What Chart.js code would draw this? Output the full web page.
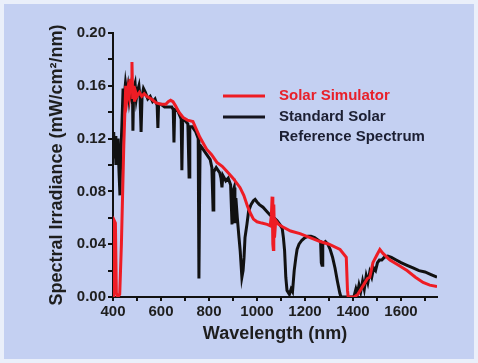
<!DOCTYPE html>
<html lang="en">
<head>
    <meta charset="UTF-8">
    <title>Solar Simulator vs Standard Solar Spectrum</title>
    <script src="https://cdn.jsdelivr.net/npm/chart.js"></script>
    <style>
        html, body { margin: 0; padding: 0; background: #eaeffa; }
        #chart { display: block; }
    </style>
</head>
<body>
    <canvas id="chart" width="478" height="363"></canvas>

    <script>
        // Standard solar reference spectrum (black)
        const refWavelength = [
            400, 403, 406, 409, 412, 415, 418, 421, 425, 429, 432, 437, 442, 447, 452, 457, 462, 467, 472, 477,
            481, 483, 486, 492, 497, 502, 508, 513, 517, 521, 527, 535, 545, 555, 565, 575, 584, 587, 590, 600,
            615, 630, 645, 651, 654, 657, 670, 684, 687, 690, 700, 712, 717, 720, 730, 745, 755, 758, 761, 763,
            775, 790, 805, 812, 817, 820, 830, 845, 850, 854, 858, 870, 880, 890, 896, 900, 905, 908, 912, 918,
            925, 930, 937, 942, 946, 950, 958, 965, 975, 985, 992, 1000, 1010, 1025, 1040, 1055, 1070, 1083, 1095, 1105,
            1110, 1115, 1120, 1125, 1135, 1142, 1148, 1155, 1162, 1167, 1175, 1187, 1200, 1212, 1225, 1240, 1255, 1265, 1268, 1271,
            1274, 1285, 1295, 1305, 1315, 1325, 1335, 1345, 1350, 1400, 1405, 1412, 1418, 1425, 1432, 1440, 1447, 1455, 1462, 1470,
            1478, 1486, 1494, 1502, 1510, 1520, 1530, 1545, 1560, 1580, 1600, 1625, 1650, 1675, 1700, 1725, 1750
        ];
        const refIrradiance = [
            0.110, 0.125, 0.105, 0.122, 0.100, 0.118, 0.108, 0.120, 0.095, 0.077, 0.105, 0.130, 0.158, 0.152, 0.162, 0.155, 0.160, 0.150, 0.158, 0.152,
            0.160, 0.126, 0.158, 0.162, 0.150, 0.156, 0.160, 0.150, 0.125, 0.152, 0.158, 0.155, 0.150, 0.152, 0.148, 0.150, 0.145, 0.128, 0.146, 0.146,
            0.144, 0.144, 0.144, 0.142, 0.117, 0.142, 0.141, 0.135, 0.096, 0.133, 0.134, 0.131, 0.091, 0.129, 0.129, 0.125, 0.120, 0.014, 0.080, 0.115,
            0.112, 0.108, 0.104, 0.098, 0.066, 0.095, 0.098, 0.094, 0.090, 0.083, 0.092, 0.088, 0.090, 0.085, 0.055, 0.080, 0.083, 0.056, 0.075, 0.060,
            0.045, 0.035, 0.015, 0.020, 0.030, 0.045, 0.055, 0.065, 0.070, 0.073, 0.074, 0.072, 0.070, 0.068, 0.065, 0.062, 0.060, 0.058, 0.055, 0.052,
            0.045, 0.035, 0.015, 0.005, 0.002, 0.006, 0.004, 0.020, 0.030, 0.036, 0.040, 0.043, 0.045, 0.046, 0.046, 0.045, 0.043, 0.042, 0.026, 0.024,
            0.040, 0.042, 0.040, 0.036, 0.030, 0.022, 0.012, 0.003, 0.000, 0.000, 0.001, 0.006, 0.002, 0.009, 0.004, 0.012, 0.006, 0.016, 0.011, 0.019,
            0.015, 0.022, 0.020, 0.026, 0.028, 0.028, 0.030, 0.031, 0.030, 0.028, 0.026, 0.024, 0.022, 0.020, 0.019, 0.017, 0.015
        ];

        // Solar simulator output (red)
        const simWavelength = [
            400, 403, 405, 410, 414, 420, 428, 435, 445, 453, 458, 463, 468, 473, 476, 479, 482, 486, 490, 495,
            500, 510, 520, 530, 540, 560, 580, 600, 620, 630, 640, 650, 660, 675, 692, 710, 733, 745, 762, 790,
            810, 833, 855, 875, 900, 929, 945, 960, 971, 985, 1000, 1020, 1042, 1055, 1060, 1063, 1066, 1068, 1070, 1073,
            1078, 1090, 1108, 1140, 1179, 1221, 1263, 1300, 1346, 1372, 1377, 1380, 1405, 1420, 1440, 1460, 1470, 1483, 1500, 1512,
            1525, 1554, 1590, 1625, 1660, 1692, 1720, 1750
        ];
        const simIrradiance = [
            0.000, 0.056, 0.058, 0.056, 0.003, 0.000, 0.002, 0.040, 0.115, 0.160, 0.150, 0.158, 0.152, 0.165, 0.160, 0.178, 0.150, 0.160, 0.148, 0.155,
            0.152, 0.155, 0.152, 0.154, 0.152, 0.150, 0.147, 0.146, 0.146, 0.148, 0.149, 0.148, 0.145, 0.140, 0.136, 0.134, 0.133, 0.128, 0.121, 0.112,
            0.108, 0.102, 0.099, 0.095, 0.090, 0.083, 0.077, 0.069, 0.064, 0.059, 0.057, 0.056, 0.055, 0.054, 0.062, 0.076, 0.040, 0.036, 0.070, 0.045,
            0.058, 0.055, 0.053, 0.050, 0.048, 0.045, 0.042, 0.040, 0.036, 0.030, 0.005, 0.000, 0.000, 0.002, 0.008, 0.014, 0.015, 0.026, 0.032, 0.036,
            0.033, 0.028, 0.024, 0.020, 0.015, 0.011, 0.009, 0.008
        ];

        const xTicks = [400, 600, 800, 1000, 1200, 1400, 1600];

        const toPoints = (xs, ys) => xs.map((x, i) => ({ x: x, y: ys[i] }));

        const fontFamily = '"Liberation Sans", Arial, sans-serif';

        // page background with a thin light frame
        const backgroundPlugin = {
            id: 'bg',
            beforeDraw(chart) {
                const ctx = chart.ctx;
                ctx.save();
                ctx.fillStyle = '#eaeffa';
                ctx.fillRect(0, 0, chart.width, chart.height);
                ctx.fillStyle = '#c4d0f2';
                ctx.fillRect(4, 4, chart.width - 8, chart.height - 8);
                ctx.restore();
            }
        };

        // legend inside the plot, with a two line label for the reference
        const legendPlugin = {
            id: 'inlineLegend',
            afterDatasetsDraw(chart) {
                const ctx = chart.ctx;
                ctx.save();
                ctx.lineWidth = 3;
                ctx.strokeStyle = '#ee1c24';
                ctx.beginPath(); ctx.moveTo(223, 96); ctx.lineTo(265, 96); ctx.stroke();
                ctx.strokeStyle = '#15151f';
                ctx.beginPath(); ctx.moveTo(223, 117); ctx.lineTo(265, 117); ctx.stroke();

                ctx.font = 'bold 15px ' + fontFamily;
                ctx.textBaseline = 'middle';
                ctx.textAlign = 'left';
                ctx.fillStyle = '#e8202a';
                ctx.fillText('Solar Simulator', 279, 96);
                ctx.fillStyle = '#1c1f33';
                ctx.fillText('Standard Solar', 279, 117);
                ctx.fillText('Reference Spectrum', 279, 137);
                ctx.restore();
            }
        };

        const ctx = document.getElementById('chart').getContext('2d');
        new Chart(ctx, {
            type: 'line',
            data: {
                datasets: [
                    {
                        label: 'Solar Simulator',
                        data: toPoints(simWavelength, simIrradiance),
                        borderColor: '#ee1c24',
                        borderWidth: 3,
                        pointRadius: 0,
                        tension: 0,
                        fill: false
                    },
                    {
                        label: 'Standard Solar Reference Spectrum',
                        data: toPoints(refWavelength, refIrradiance),
                        borderColor: '#111111',
                        borderWidth: 3,
                        pointRadius: 0,
                        tension: 0,
                        fill: false
                    }
                ]
            },
            options: {
                responsive: false,
                animation: false,
                devicePixelRatio: 1,
                layout: { padding: { left: 0, right: 41, top: 33, bottom: 0 } },
                plugins: {
                    legend: { display: false },
                    tooltip: { enabled: false }
                },
                scales: {
                    x: {
                        type: 'linear',
                        min: 400,
                        max: 1750,
                        border: { display: true, color: '#111', width: 2 },
                        grid: { drawOnChartArea: false, drawTicks: true, tickLength: 4, color: '#111', lineWidth: 2 },
                        ticks: {
                            stepSize: 100,
                            includeBounds: false,
                            autoSkip: false,
                            maxRotation: 0,
                            padding: 2,
                            color: '#1e1e1e',
                            font: { family: fontFamily, weight: 'bold', size: 15 },
                            callback: v => xTicks.includes(v) ? String(v) : ''
                        },
                        title: {
                            display: true,
                            text: 'Wavelength (nm)',
                            color: '#1e1e1e',
                            font: { family: fontFamily, weight: 'bold', size: 18 },
                            padding: { top: 0, bottom: 18 }
                        },
                        afterFit: s => { s.height = 66; }
                    },
                    y: {
                        min: 0,
                        max: 0.2,
                        border: { display: true, color: '#111', width: 2 },
                        grid: { drawOnChartArea: false, drawTicks: true, tickLength: 5, color: '#111', lineWidth: 2 },
                        ticks: {
                            stepSize: 0.02,
                            padding: 2,
                            color: '#1e1e1e',
                            font: { family: fontFamily, weight: 'bold', size: 15 },
                            callback: v => Math.round(v * 100) % 4 === 0 ? v.toFixed(2) : ''
                        },
                        title: {
                            display: true,
                            text: 'Spectral Irradiance (mW/cm²/nm)',
                            color: '#1e1e1e',
                            font: { family: fontFamily, weight: 'bold', size: 18 },
                            padding: { top: 46, bottom: 0 }
                        },
                        afterFit: s => { s.width = 113; }
                    }
                }
            },
            plugins: [backgroundPlugin, legendPlugin]
        });
    </script>
</body>
</html>
